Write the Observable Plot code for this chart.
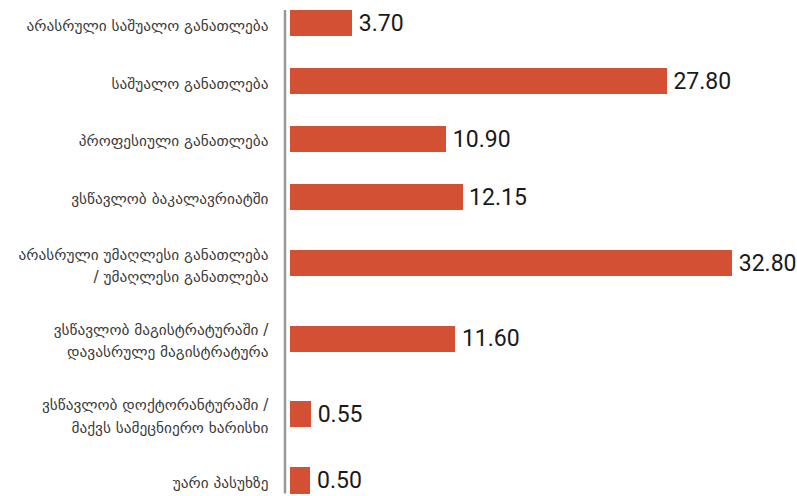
<!DOCTYPE html>
<html><head><meta charset="utf-8">
<script src="https://cdn.jsdelivr.net/npm/d3@7"></script>
<script src="https://cdn.jsdelivr.net/npm/@observablehq/plot@0.6"></script>
<style>
body{margin:0;background:#fff}
g[aria-label="values"] text{letter-spacing:-1.4px}
</style>
</head><body><div id="chart"></div>
<script>
const categories = [
  "არასრული საშუალო განათლება",
  "საშუალო განათლება",
  "პროფესიული განათლება",
  "ვსწავლობ ბაკალავრიატში",
  "არასრული უმაღლესი განათლება\n/ უმაღლესი განათლება",
  "ვსწავლობ მაგისტრატურაში /\nდავასრულე მაგისტრატურა",
  "ვსწავლობ დოქტორანტურაში /\nმაქვს სამეცნიერო ხარისხი",
  "უარი პასუხზე"
];
const values = [3.70, 27.80, 10.90, 12.15, 32.80, 11.60, 0.55, 0.50];
const valueLabels = ["3.70", "27.80", "10.90", "12.15", "32.80", "11.60", "0.55", "0.50"];

// layout: each category slot grows with the number of label lines
const slots = categories.map(c => c.split("\n").length === 1 ? 1 : 1.3);
const centers = [];
let acc = 0;
slots.forEach(s => { centers.push(acc + s / 2); acc += s; });

const rows = categories.map((c, i) => ({cat: c, value: values[i], label: valueLabels[i], pos: centers[i]}));
const half = 0.225;
const xMin = -1.07;
const barColor = "#d35035";

const chart = Plot.plot({
  width: 797,
  height: 496,
  marginLeft: 290,
  marginRight: 23,
  marginTop: 23,
  marginBottom: 15.5,
  x: {domain: [xMin, 36], axis: null},
  y: {domain: [centers[0], centers[centers.length - 1]], reverse: true, axis: null},
  marks: [
    Plot.rect(rows, {x1: xMin, x2: "value", y1: d => d.pos - half, y2: d => d.pos + half, fill: barColor, shapeRendering: "crispEdges"}),
    Plot.ruleX([xMin], {y1: centers[0] - half, y2: centers[centers.length - 1] + half, dx: -5.5, stroke: "#999", strokeWidth: 2.5}),
    Plot.text(rows, {x: xMin, y: "pos", text: "cat", textAnchor: "end", dx: -22, lineHeight: 1.45, fontSize: 15.3, fontFamily: "DejaVu Sans", fill: "#3a3a3a", ariaLabel: "categories"}),
    Plot.text(rows, {x: "value", y: "pos", text: "label", textAnchor: "start", dx: 6, fontSize: 23, fontFamily: "Roboto, sans-serif", fill: "#1a1a1a", ariaLabel: "values"})
  ]
});
document.getElementById("chart").append(chart);
</script>
</body></html>
